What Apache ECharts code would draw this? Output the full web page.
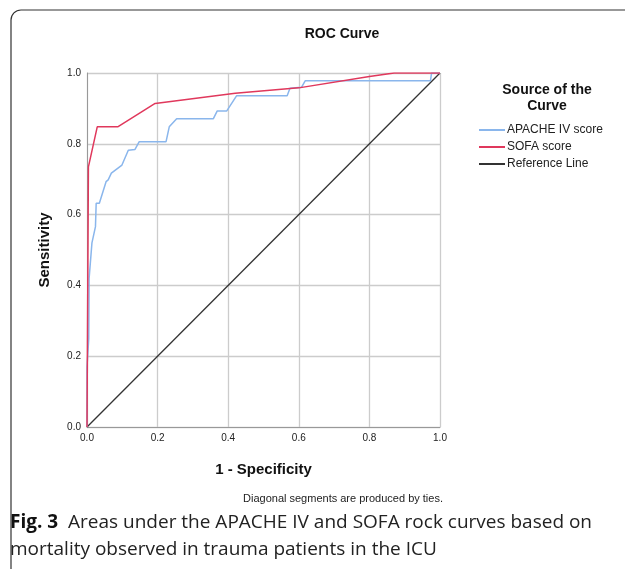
<!DOCTYPE html>
<html><head><meta charset="utf-8">
<script src="https://cdn.jsdelivr.net/npm/echarts@6/dist/echarts.min.js"></script>
<style>html,body{margin:0;padding:0;background:#fff}#c{width:625px;height:569px}</style>
</head><body><div id="c"></div>
<script>
// 1 - Specificity, Sensitivity pairs
const apacheX = [0,0,0.005,0.006,0.014,0.024,0.026,0.035,0.054,0.06,0.069,0.099,0.117,0.136,0.148,0.224,0.233,0.254,0.358,0.369,0.396,0.424,0.567,0.575,0.608,0.618,0.973,0.976,1];
const apacheY = [0,0.17,0.25,0.42,0.52,0.566,0.632,0.632,0.693,0.698,0.717,0.74,0.782,0.784,0.806,0.806,0.848,0.871,0.871,0.893,0.893,0.936,0.936,0.957,0.96,0.978,0.978,1,1];
const sofaX = [0,0.004,0.029,0.087,0.193,0.42,0.6,0.8,0.87,1];
const sofaY = [0,0.735,0.848,0.848,0.914,0.943,0.958,0.99,1,1];
const refX = [0,1];
const refY = [0,1];
const seriesNames = ['APACHE IV score','SOFA score','Reference Line'];
const tickLabels = ['0.0','0.2','0.4','0.6','0.8','1.0'];

const zip = (xs, ys) => xs.map((x, i) => [x, ys[i]]);
const chart = echarts.init(document.getElementById('c'), null, {renderer:'canvas'});
const ff = '"Liberation Sans", Arial, sans-serif';
const axisCommon = {
  type:'value', min:0, max:1, interval:0.2,
  axisLine:{show:true, lineStyle:{color:'#999', width:1}},
  axisTick:{show:false},
  splitLine:{show:true, lineStyle:{color:'#cccccc', width:1.3}},
  axisLabel:{color:'#222', fontSize:10, fontFamily:ff, formatter:v => tickLabels[Math.round(v*5)]}
};
chart.setOption({
  animation:false,
  backgroundColor:'#fff',
  title:[
    {text:'ROC Curve', left:337, top:22, textAlign:'center', textStyle:{fontFamily:ff, fontSize:14, fontWeight:'bold', color:'#111'}},
    {text:'Source of the\nCurve', left:542, top:77, textAlign:'center', textStyle:{fontFamily:ff, fontSize:14, fontWeight:'bold', color:'#111', lineHeight:16}},
    {text:'Diagonal segments are produced by ties.', left:338, top:488, textAlign:'center', textStyle:{fontFamily:ff, fontSize:11, fontWeight:'normal', color:'#222'}}
  ],
  legend:{
    orient:'vertical', left:474, top:118, itemGap:3, itemWidth:26, itemHeight:14,
    icon:'path://M0,6L26,6L26,8L0,8Z',
    textStyle:{fontFamily:ff, fontSize:12, color:'#222', padding:[0,0,0,-3], lineHeight:14, height:14},
    data:seriesNames
  },
  grid:{left:87, right:185, top:73, bottom:142, containLabel:false},
  xAxis:Object.assign({}, axisCommon, {name:'1 - Specificity', nameLocation:'middle', nameGap:35,
    nameTextStyle:{fontFamily:ff, fontSize:15, fontWeight:'bold', color:'#111'},
    axisLabel:Object.assign({}, axisCommon.axisLabel, {margin:6})}),
  yAxis:Object.assign({}, axisCommon, {name:'Sensitivity', nameLocation:'middle', nameGap:35,
    nameTextStyle:{fontFamily:ff, fontSize:15, fontWeight:'bold', color:'#111'},
    axisLabel:Object.assign({}, axisCommon.axisLabel, {margin:6})}),
  series:[
    {name:seriesNames[2], type:'line', data:zip(refX, refY), symbol:'none', lineStyle:{color:'#333', width:1.3}, itemStyle:{color:'#333'}, z:2},
    {name:seriesNames[0], type:'line', data:zip(apacheX, apacheY), symbol:'none', lineStyle:{color:'#8ab6ec', width:1.5}, itemStyle:{color:'#8ab6ec'}, z:3},
    {name:seriesNames[1], type:'line', data:zip(sofaX, sofaY), symbol:'none', lineStyle:{color:'#e0385c', width:1.5}, itemStyle:{color:'#e0385c'}, z:4}
  ],
  graphic:[
    {type:'rect', shape:{x:11, y:10, width:700, height:700, r:10}, style:{fill:null, stroke:'#333', lineWidth:1.2}, silent:true},
    {type:'text', left:10, top:509, style:{
      text:'{b|Fig. 3}  Areas under the APACHE IV and SOFA rock curves based on\nmortality observed in trauma patients in the ICU',
      rich:{b:{fontFamily:'"Open Sans", sans-serif', fontWeight:'bold', fontSize:19, fill:'#111'}},
      fontFamily:'"Open Sans", sans-serif', fontSize:19, fill:'#222', lineHeight:27}}
  ]
});
</script></body></html>
